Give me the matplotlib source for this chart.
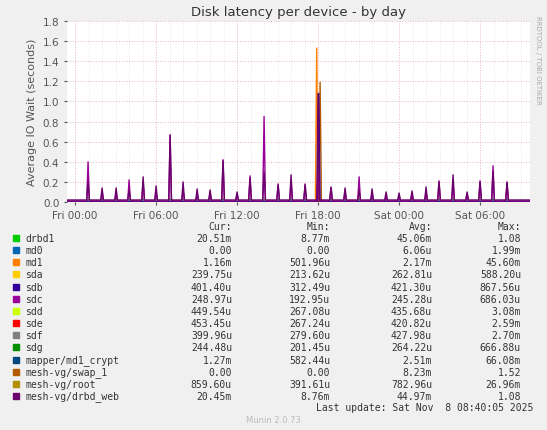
import numpy as np
import matplotlib.pyplot as plt

# hours since Fri 00:00
t_start, t_end = -0.6, 33.7
spike_hours = [0.96, 2.0, 3.04, 4.0, 5.04, 6.0, 7.04, 8.0, 9.04, 10.0, 10.96, 12.0, 12.96,
               14.0, 15.04, 16.0, 17.04, 18.0, 18.96, 20.0, 21.04, 22.0, 23.04, 24.0,
               24.96, 26.0, 26.96, 28.0, 29.04, 30.0, 30.96, 32.0]
sdc_peaks = [0.40, 0.10, 0.08, 0.22, 0.20, 0.10, 0.67, 0.12, 0.08, 0.08, 0.42, 0.08, 0.26,
             0.85, 0.18, 0.20, 0.18, 0.30, 0.15, 0.10, 0.25, 0.08, 0.06, 0.06, 0.08, 0.10,
             0.21, 0.20, 0.08, 0.21, 0.36, 0.19]
web_peaks = [0.20, 0.14, 0.14, 0.12, 0.25, 0.16, 0.66, 0.20, 0.13, 0.12, 0.41, 0.10, 0.24,
             0.30, 0.17, 0.27, 0.17, 1.08, 0.14, 0.14, 0.12, 0.13, 0.10, 0.09, 0.11, 0.15,
             0.20, 0.27, 0.10, 0.20, 0.30, 0.20]
md1_spike = (17.9, 1.53)
sde_spike = (18.15, 1.19)
sdb_spike = (18.05, 1.08)

names = ["drbd1", "md0", "md1", "sda", "sdb", "sdc", "sdd", "sde", "sdf", "sdg",
         "mapper/md1_crypt", "mesh-vg/swap_1", "mesh-vg/root", "mesh-vg/drbd_web"]
colors = ["#00CC00", "#0066B3", "#FF8000", "#FFCC00", "#330099", "#990099", "#CCFF00",
          "#FF0000", "#808080", "#008F00", "#00487D", "#B35A00", "#B38F00", "#6B006B"]
cur = ["20.51m", "0.00", "1.16m", "239.75u", "401.40u", "248.97u", "449.54u", "453.45u",
       "399.96u", "244.48u", "1.27m", "0.00", "859.60u", "20.45m"]
mins = ["8.77m", "0.00", "501.96u", "213.62u", "312.49u", "192.95u", "267.08u", "267.24u",
        "279.60u", "201.45u", "582.44u", "0.00", "391.61u", "8.76m"]
avgs = ["45.06m", "6.06u", "2.17m", "262.81u", "421.30u", "245.28u", "435.68u", "420.82u",
        "427.98u", "264.22u", "2.51m", "8.23m", "782.96u", "44.97m"]
maxs = ["1.08", "1.99m", "45.60m", "588.20u", "867.56u", "686.03u", "3.08m", "2.59m",
        "2.70m", "666.88u", "66.08m", "1.52", "26.96m", "1.08"]


def build(peaks, base, width=0.1):
    xs, ys = [t_start], [base]
    for h, v in peaks:
        xs += [h - width, h, h + width]
        ys += [base, v, base]
    xs.append(t_end)
    ys.append(base)
    return xs, ys


fig = plt.figure(figsize=(5.47, 4.31), dpi=100, facecolor="#F0F0F0")
ax = fig.add_axes([67 / 547, 1 - 203 / 431, 463 / 547, 181 / 431])
ax.set_facecolor("white")

ax.plot(*build([(h, 0.03) for h in spike_hours], 0.01), color="#00CC00", lw=0.8)
ax.plot(*build([(h, 0.01) for h in spike_hours], 0.004), color="#0066B3", lw=0.8)
ax.plot(*build([md1_spike], 0.002), color="#FF8000", lw=1)
ax.plot(*build([sde_spike], 0.002), color="#B35A00", lw=1)
ax.plot(*build([sdb_spike], 0.002), color="#330099", lw=1)
ax.plot(*build(list(zip(spike_hours, sdc_peaks)), 0.01), color="#990099", lw=1)
ax.plot(*build(list(zip(spike_hours, web_peaks)), 0.02), color="#6B006B", lw=1)

ax.set_xlim(t_start, t_end)
ax.set_ylim(0, 1.8)
ax.set_yticks(np.arange(0, 1.81, 0.2))
ax.set_yticklabels([f"{v:.1f}" for v in np.arange(0, 1.81, 0.2)])
ax.set_xticks([0, 6, 12, 18, 24, 30])
ax.set_xticklabels(["Fri 00:00", "Fri 06:00", "Fri 12:00", "Fri 18:00", "Sat 00:00", "Sat 06:00"])
ax.set_xticks(np.arange(0, 34, 1), minor=True)
ax.set_yticks(np.arange(0.1, 1.8, 0.2), minor=True)
ax.grid(True, which="major", color="#E8B8B8", ls=":", lw=0.7)
ax.grid(True, which="minor", axis="x", color="#DDDDDD", ls=":", lw=0.5)
ax.tick_params(labelsize=7.5, colors="#555555", length=2)
ax.tick_params(which="minor", length=0)
for s in ax.spines.values():
    s.set_visible(False)
ax.axhline(0, color="black", lw=0.8)
ax.set_ylabel("Average IO Wait (seconds)", fontsize=8, color="#555555")
ax.set_title("Disk latency per device - by day", fontsize=9.5, color="#333333", pad=4)

fig.text(538 / 547, 1 - 60 / 431, "RRDTOOL / TOBI OETIKER", rotation=270, fontsize=5,
         color="#AAAAAA", ha="center", va="center")

mono = dict(family="DejaVu Sans Mono", fontsize=7, color="#333333")
hy = 227
for x, lab in [(232, "Cur:"), (330, "Min:"), (432, "Avg:"), (521, "Max:")]:
    fig.text(x / 547, 1 - hy / 431, lab, ha="right", va="center", **mono)
for i, n in enumerate(names):
    y = 1 - (239 + i * 12.15) / 431
    fig.patches.append(plt.Rectangle((13 / 547, y - 3 / 431), 6 / 547, 6 / 431,
                                     transform=fig.transFigure, color=colors[i]))
    fig.text(25 / 547, y, n, ha="left", va="center", **mono)
    fig.text(232 / 547, y, cur[i], ha="right", va="center", **mono)
    fig.text(330 / 547, y, mins[i], ha="right", va="center", **mono)
    fig.text(432 / 547, y, avgs[i], ha="right", va="center", **mono)
    fig.text(521 / 547, y, maxs[i], ha="right", va="center", **mono)
fig.text(533 / 547, 1 - 408 / 431, "Last update: Sat Nov  8 08:40:05 2025", ha="right",
         va="center", **mono)
fig.text(273 / 547, 1 - 421 / 431, "Munin 2.0.73", ha="center", va="center",
         fontsize=6, color="#BBBBBB")

fig.savefig("out.png", dpi=100, facecolor=fig.get_facecolor())
